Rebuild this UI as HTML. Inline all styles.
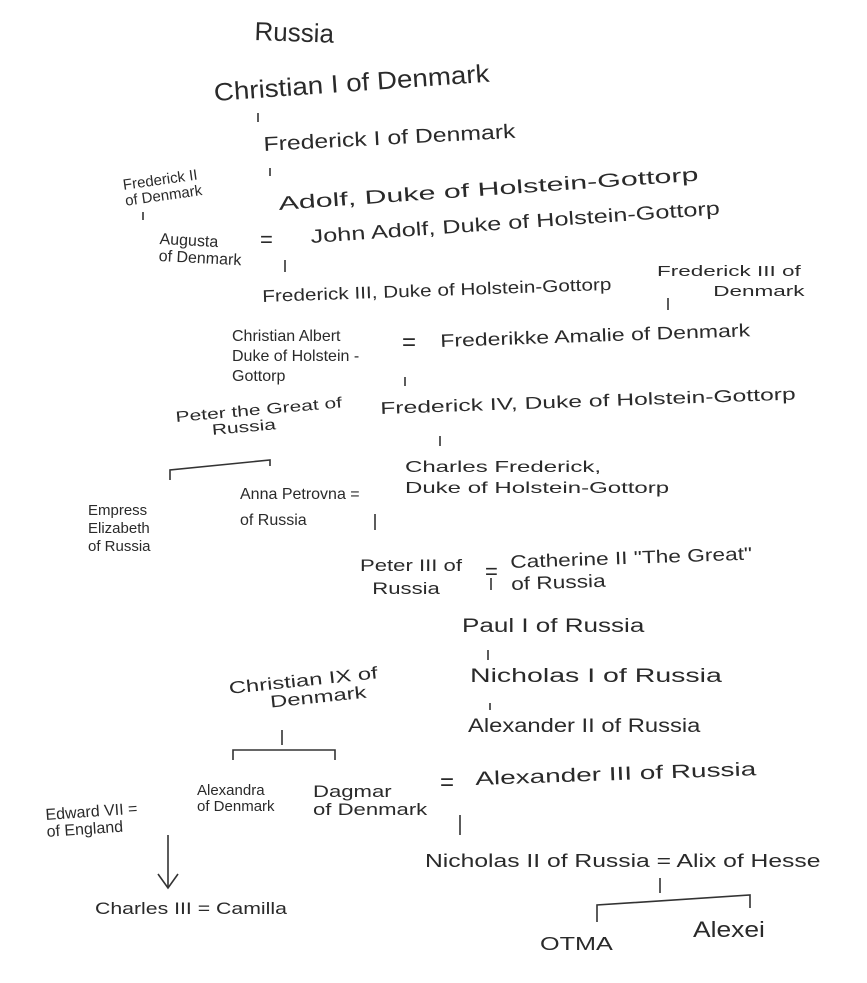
<!DOCTYPE html>
<html><head><meta charset="utf-8"><style>
html,body{margin:0;padding:0;background:#fff;}
#c{position:relative;width:867px;height:983px;overflow:hidden;font-family:"Liberation Sans",sans-serif;color:#2a2a2a;}
.t{position:absolute;white-space:nowrap;line-height:1.05;transform-origin:left top;font-weight:300;}
svg{position:absolute;left:0;top:0;}
</style></head><body><div id="c">
<svg width="867" height="983" stroke="#333" stroke-width="1.6" fill="none">
<line x1="258" y1="113" x2="258" y2="122"/>
<line x1="270" y1="168" x2="270" y2="176"/>
<line x1="143" y1="212" x2="143" y2="220"/>
<line x1="285" y1="260" x2="285" y2="272"/>
<line x1="668" y1="298" x2="668" y2="310"/>
<line x1="405" y1="377" x2="405" y2="386"/>
<line x1="440" y1="436" x2="440" y2="446"/>
<polyline points="170,480 170,470 270,460 270,466"/>
<line x1="375" y1="514" x2="375" y2="530"/>
<line x1="491" y1="578" x2="491" y2="590"/>
<line x1="488" y1="650" x2="488" y2="660"/>
<line x1="490" y1="703" x2="490" y2="710"/>
<line x1="282" y1="730" x2="282" y2="745"/>
<polyline points="233,760 233,750 335,750 335,760"/>
<line x1="460" y1="815" x2="460" y2="835"/>
<line x1="168" y1="835" x2="168" y2="888"/>
<polyline points="158,874 168,888 178,874"/>
<line x1="660" y1="878" x2="660" y2="893"/>
<polyline points="597,922 597,905 750,895 750,908"/>
</svg>
<div class="t" style="left:255px;top:18px;font-size:26px;transform:rotate(2deg)">Russia</div>
<div class="t" style="left:213px;top:80px;font-size:25px;transform:rotate(-4deg) scaleX(1.11)">Christian I of Denmark</div>
<div class="t" style="left:263px;top:135px;font-size:20px;transform:rotate(-3deg) scaleX(1.24)">Frederick I of Denmark</div>
<div class="t" style="left:122px;top:178px;font-size:15px;transform:rotate(-8deg)">Frederick II<br>of Denmark</div>
<div class="t" style="left:278px;top:195px;font-size:19px;transform:rotate(-4deg) scaleX(1.6)">Adolf, Duke of Holstein-Gottorp</div>
<div class="t" style="left:160px;top:232px;font-size:16px;transform:rotate(3deg)">Augusta<br>of Denmark</div>
<div class="t" style="left:260px;top:228px;font-size:22px">=</div>
<div class="t" style="left:310px;top:228px;font-size:19px;transform:rotate(-4deg) scaleX(1.33)">John Adolf, Duke of Holstein-Gottorp</div>
<div class="t" style="left:262px;top:288px;font-size:17px;transform:rotate(-2deg) scaleX(1.22)">Frederick III, Duke of Holstein-Gottorp</div>
<div class="t" style="left:657px;top:262px;font-size:15px;line-height:1.3;transform:scaleX(1.5)">Frederick III of<br>&nbsp;&nbsp;&nbsp;&nbsp;&nbsp;&nbsp;&nbsp;&nbsp;&nbsp;Denmark</div>
<div class="t" style="left:232px;top:327px;font-size:16px;line-height:1.25">Christian Albert<br>Duke of Holstein -<br>Gottorp</div>
<div class="t" style="left:402px;top:330px;font-size:24px">=</div>
<div class="t" style="left:440px;top:332px;font-size:18px;transform:rotate(-2deg) scaleX(1.28)">Frederikke Amalie of Denmark</div>
<div class="t" style="left:380px;top:400px;font-size:17px;transform:rotate(-2deg) scaleX(1.45)">Frederick IV, Duke of Holstein-Gottorp</div>
<div class="t" style="left:175px;top:410px;font-size:15px;transform:rotate(-5deg) scaleX(1.4)">Peter the Great of<br>&nbsp;&nbsp;&nbsp;&nbsp;&nbsp;&nbsp;Russia</div>
<div class="t" style="left:405px;top:458px;font-size:16px;line-height:1.3;transform:scaleX(1.5)">Charles Frederick,<br>Duke of Holstein-Gottorp</div>
<div class="t" style="left:240px;top:482px;font-size:16px;line-height:1.6">Anna Petrovna =<br>of Russia</div>
<div class="t" style="left:88px;top:502px;font-size:15px;line-height:1.2">Empress<br>Elizabeth<br>of Russia</div>
<div class="t" style="left:360px;top:555px;font-size:17px;line-height:1.35;transform:scaleX(1.3)">Peter III of<br>&nbsp;&nbsp;Russia</div>
<div class="t" style="left:485px;top:560px;font-size:22px">=</div>
<div class="t" style="left:510px;top:552px;font-size:18px;line-height:1.2;transform:rotate(-2deg) scaleX(1.26)">Catherine II "The Great"<br>of Russia</div>
<div class="t" style="left:462px;top:617px;font-size:19px;transform:scaleX(1.37)">Paul I of Russia</div>
<div class="t" style="left:470px;top:667px;font-size:19px;transform:scaleX(1.5)">Nicholas I of Russia</div>
<div class="t" style="left:468px;top:717px;font-size:19px;transform:scaleX(1.25)">Alexander II of Russia</div>
<div class="t" style="left:228px;top:680px;font-size:17px;transform:rotate(-6deg) scaleX(1.4)">Christian IX of<br>&nbsp;&nbsp;&nbsp;&nbsp;&nbsp;&nbsp;Denmark</div>
<div class="t" style="left:197px;top:783px;font-size:15px">Alexandra<br>of Denmark</div>
<div class="t" style="left:313px;top:783px;font-size:17px;transform:scaleX(1.3)">Dagmar<br>of Denmark</div>
<div class="t" style="left:440px;top:770px;font-size:24px">=</div>
<div class="t" style="left:475px;top:770px;font-size:19px;transform:rotate(-2deg) scaleX(1.47)">Alexander III of Russia</div>
<div class="t" style="left:45px;top:808px;font-size:16px;transform:rotate(-4deg)">Edward VII =<br>of England</div>
<div class="t" style="left:425px;top:852px;font-size:18px;transform:scaleX(1.37)">Nicholas II of Russia = Alix of Hesse</div>
<div class="t" style="left:95px;top:900px;font-size:17px;transform:scaleX(1.25)">Charles III = Camilla</div>
<div class="t" style="left:540px;top:935px;font-size:18px;transform:scaleX(1.4)">OTMA</div>
<div class="t" style="left:693px;top:918px;font-size:22px;transform:scaleX(1.2)">Alexei</div>
</div></body></html>
